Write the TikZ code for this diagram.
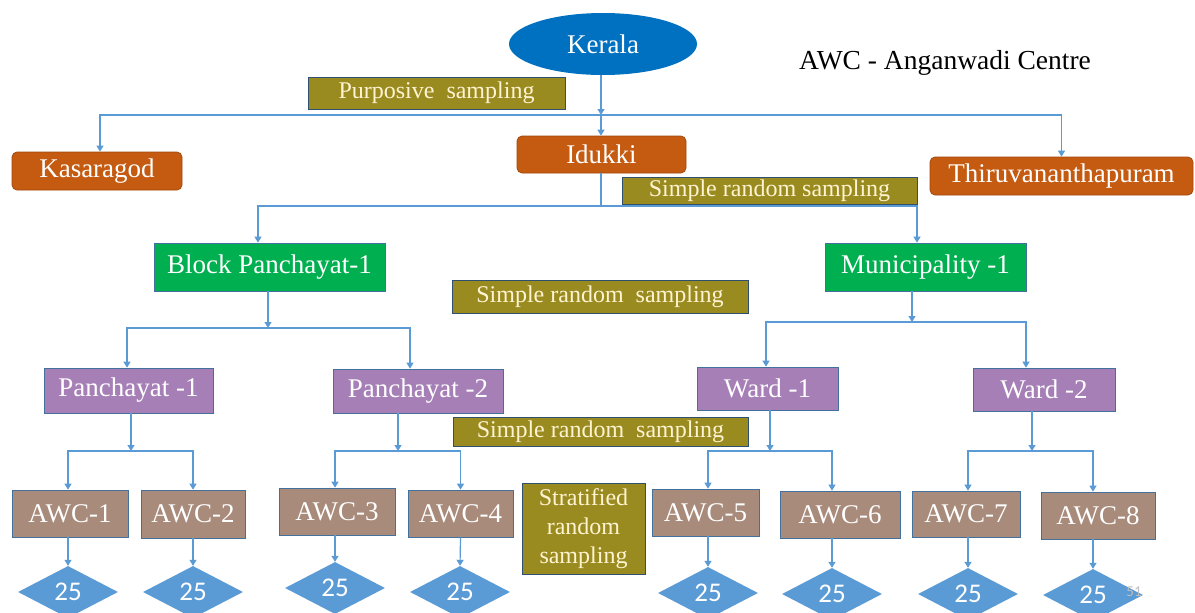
\documentclass[tikz,border=0pt]{standalone}
\usepackage{fontspec}
\setmainfont{Liberation Serif}
\newfontfamily\carlitofont{Carlito}
\usetikzlibrary{shapes.geometric,arrows.meta}
\definecolor{kblue}{HTML}{0070C0}
\definecolor{korange}{HTML}{C55A11}
\definecolor{kolive}{HTML}{9A8B20}
\definecolor{kgreen}{HTML}{00B050}
\definecolor{kpurple}{HTML}{A67FB7}
\definecolor{kbrown}{HTML}{A88B7B}
\definecolor{kdiam}{HTML}{5B9BD5}
\definecolor{lineblue}{HTML}{5B9BD5}
\definecolor{edgeblue}{HTML}{41719C}
\definecolor{cream}{HTML}{FFF4D2}
\begin{document}
\begin{tikzpicture}[x=1pt,y=-1pt,
  conn/.style={draw=lineblue,line width=1.2pt},
  arr/.style={conn,-{Triangle[width=7pt,length=6pt]}},
  box/.style={rectangle,inner sep=0pt,font=\fontsize{27}{30}\selectfont,text=white,draw=edgeblue,line width=0.7pt},
  distbox/.style={box,fill=korange,draw=korange!80!black,rounded corners=5pt},
  greenbox/.style={box,fill=kgreen},
  purplebox/.style={box,fill=kpurple},
  awcbox/.style={box,fill=kbrown},
  samplebox/.style={rectangle,inner sep=0pt,fill=kolive,draw=edgeblue!70!black,line width=0.8pt,text=cream,font=\fontsize{24}{29}\selectfont},
  count/.style={diamond,inner sep=0pt,minimum width=100pt,minimum height=52pt,fill=kdiam,text=white,font=\carlitofont\fontsize{27}{30}\selectfont}
]
\useasboundingbox (0,0) rectangle (1195,613);
\fill[white] (0,0) rectangle (1195,613);

% top
\node[ellipse,inner sep=0pt,minimum width=188pt,minimum height=62pt,fill=kblue,text=white,font=\fontsize{27}{30}\selectfont] (kerala) at (603,44) {Kerala};
\node[font=\fontsize{27.5}{30}\selectfont] (legend) at (945,63) {AWC - Anganwadi Centre};
\node[samplebox,minimum width=257pt,minimum height=32pt] (purp) at (436.5,93) {Purposive\ \ sampling};

\node[distbox,minimum width=170pt,minimum height=38pt] (kas) at (97,171) {Kasaragod};
\node[distbox,minimum width=169pt,minimum height=37pt] (idk) at (601.5,154.5) {Idukki};
\node[distbox,minimum width=263pt,minimum height=38pt] (thi) at (1061.5,176) {Thiruvananthapuram};

\coordinate (j1) at (601,115);
\draw[arr] ([xshift=-2pt]kerala.south) -- (j1);
\draw[arr] (j1) -- (j1 |- idk.north);
\draw[arr] (j1) -| ([xshift=3pt]kas.north);
\draw[arr] (j1) -| (thi.north);

% second level
\node[samplebox,minimum width=295pt,minimum height=27pt] (srs1) at (769.5,190.5) {Simple random sampling};
\node[greenbox,minimum width=231pt,minimum height=48pt] (bp) at (269.5,267) {Block Panchayat-1};
\node[greenbox,minimum width=201pt,minimum height=48pt] (mun) at (925.5,267) {Municipality -1};
\node[samplebox,minimum width=296pt,minimum height=33pt] (srs2) at (600,296.5) {Simple random\ \ sampling};

\coordinate (j2) at (601,206);
\draw[conn] (j2 |- idk.south) -- (j2);
\draw[arr] (j2) -| ([xshift=-11.5pt]bp.north);
\draw[arr] (j2) -| ([xshift=-8.5pt]mun.north);

% third level
\node[purplebox,minimum width=169pt,minimum height=45pt] (p1) at (128.5,390.5) {Panchayat -1};
\node[purplebox,minimum width=170pt,minimum height=44pt] (p2) at (418,391) {Panchayat -2};
\node[purplebox,minimum width=141pt,minimum height=43pt] (w1) at (767.5,388.5) {Ward -1};
\node[purplebox,minimum width=142pt,minimum height=43pt] (w2) at (1044,389.5) {Ward -2};

\coordinate (j3) at (268,328);
\draw[arr] ([xshift=-1.5pt]bp.south) -- (j3);
\draw[arr] (j3) -| ([xshift=-1.5pt]p1.north);
\draw[arr] (j3) -| ([xshift=-8pt]p2.north);

\coordinate (j4) at (912,322);
\draw[arr] ([xshift=-13.5pt]mun.south) -- (j4);
\draw[arr] (j4) -| ([xshift=-1.5pt]w1.north);
\draw[arr] (j4) -| ([xshift=-18pt]w2.north);

\node[samplebox,minimum width=295pt,minimum height=29pt] (srs3) at (600.5,431.5) {Simple random\ \ sampling};

% AWC level
\node[awcbox,minimum width=116pt,minimum height=47pt] (a1) at (70,513.5) {AWC-1};
\node[awcbox,minimum width=104pt,minimum height=48pt] (a2) at (193,514) {AWC-2};
\node[awcbox,minimum width=116pt,minimum height=47pt] (a3) at (337,511.5) {AWC-3};
\node[awcbox,minimum width=105pt,minimum height=47pt] (a4) at (460.5,513.5) {AWC-4};
\node[awcbox,minimum width=107pt,minimum height=47pt] (a5) at (705.5,512.5) {AWC-5};
\node[awcbox,minimum width=120pt,minimum height=47pt] (a6) at (840,514.5) {AWC-6};
\node[awcbox,minimum width=108pt,minimum height=46pt] (a7) at (966,514) {AWC-7};
\node[awcbox,minimum width=114pt,minimum height=47pt] (a8) at (1098,515.5) {AWC-8};

\node[samplebox,minimum width=123pt,minimum height=91pt,align=center] (strat) at (583.5,528.5) {Stratified\\random\\sampling};

\coordinate (j5) at (131,451);
\draw[arr] ([xshift=2.5pt]p1.south) -- (j5);
\draw[arr] (j5) -| ([xshift=-2pt]a1.north);
\draw[arr] (j5) -| (a2.north);

\coordinate (j6) at (398,451);
\draw[arr] ([xshift=-20pt]p2.south) -- (j6);
\draw[arr] (j6) -| ([xshift=-2pt]a3.north);
\draw[arr] (j6) -| (a4.north);

\coordinate (j7) at (770,451);
\draw[arr] ([xshift=2.5pt]w1.south) -- (j7);
\draw[arr] (j7) -| ([xshift=2.5pt]a5.north);
\draw[arr] (j7) -| ([xshift=-8pt]a6.north);

\coordinate (j8) at (1032,451);
\draw[arr] ([xshift=-12pt]w2.south) -- (j8);
\draw[arr] (j8) -| ([xshift=2pt]a7.north);
\draw[arr] (j8) -| ([xshift=-5pt]a8.north);

% diamonds
\node[count] (d1) at (68,592) {25};
\node[count] (d2) at (193,592) {25};
\node[count] (d3) at (335,588) {25};
\node[count] (d4) at (460,592) {25};
\node[count] (d5) at (708,593) {25};
\node[count] (d6) at (832,594) {25};
\node[count] (d7) at (968,594) {25};
\node[count] (d8) at (1093,595) {25};

\draw[arr] ([xshift=-2pt]a1.south) -- (d1.north);
\draw[arr] (a2.south) -- (d2.north);
\draw[arr] ([xshift=-2pt]a3.south) -- (d3.north);
\draw[arr] (a4.south) -- (d4.north);
\draw[arr] ([xshift=2.5pt]a5.south) -- (d5.north);
\draw[arr] ([xshift=-8pt]a6.south) -- (d6.north);
\draw[arr] ([xshift=2pt]a7.south) -- (d7.north);
\draw[arr] ([xshift=-5pt]a8.south) -- (d8.north);

\node[text=gray!50,font=\carlitofont\fontsize{15}{17}\selectfont] (pagenum) at (1134,592) {51};
\end{tikzpicture}
\end{document}
